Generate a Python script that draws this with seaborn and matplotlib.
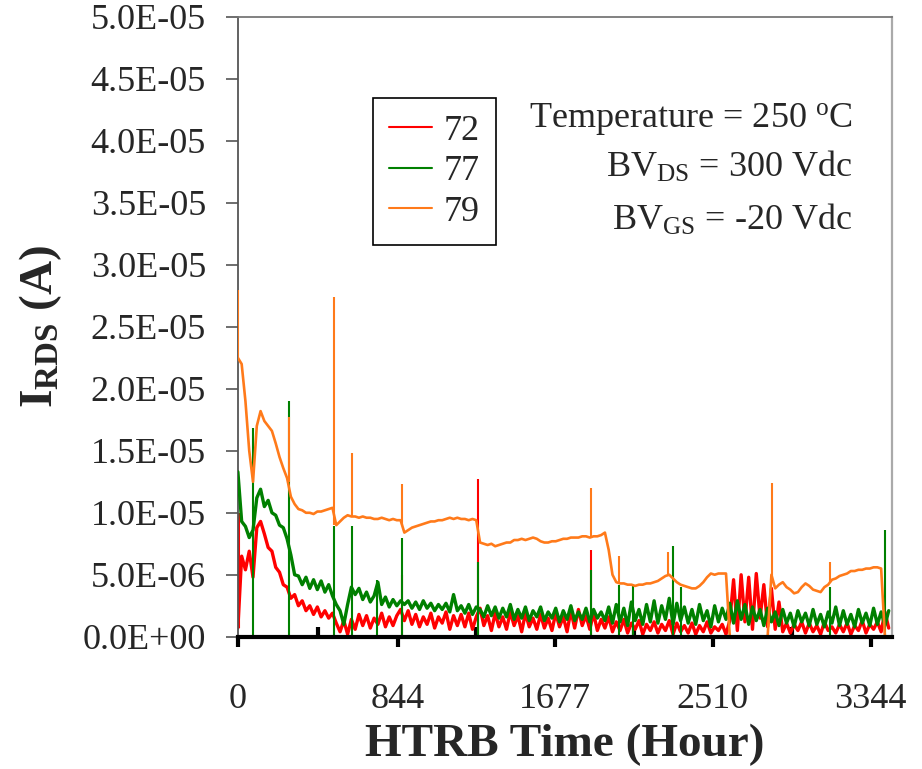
import numpy as np
import pandas as pd
import matplotlib
matplotlib.use("Agg")
import matplotlib.pyplot as plt
from matplotlib.ticker import FormatStrFormatter, FixedLocator
import seaborn as sns

# readings every 20 h, values in uA
hours = np.arange(0, 3460, 20)

irds_72 = [
    0.7, 6.5, 5.4, 6.9, 4.8, 8.8, 9.3, 8.3, 7.2, 6.9,
    5.6, 5.2, 4.2, 4.0, 3.1, 3.4, 2.5, 2.9, 2.1, 2.5,
    1.8, 2.4, 1.6, 2.1, 1.5, 1.9, 1.1, 0.4, 1.3, 0.2,
    1.4, 0.6, 1.8, 0.9, 1.7, 0.7, 1.5, 1.0, 1.9, 0.8,
    1.6, 0.9, 1.7, 2.2, 1.3, 2.1, 1.0, 1.8, 0.8, 1.6,
    1.0, 1.9, 0.7, 1.6, 1.1, 2.0, 0.6, 1.7, 0.9, 1.8,
    0.8, 1.9, 0.6, 1.6, 2.3, 0.9, 1.7, 0.5, 1.9, 0.8,
    1.6, 0.6, 2.0, 0.9, 1.7, 0.4, 1.9, 0.8, 1.5, 0.6,
    1.8, 0.7, 1.5, 0.5, 1.9, 0.8, 1.6, 0.4, 2.1, 0.7,
    2.2, 0.9, 1.7, 0.6, 1.9, 0.5, 1.4, 0.7, 1.6, 0.4,
    1.2, 0.5, 1.4, 0.3, 1.1, 0.6, 1.3, 0.2, 1.0, 0.5,
    1.2, 0.3, 1.0, 0.5, 1.3, 0.2, 1.1, 0.4, 0.9, 0.3,
    1.1, 0.2, 0.9, 0.4, 1.2, 0.3, 0.8, 0.5, 1.0, 0.2,
    1.3, 4.6, 0.5, 5.0, 1.2, 4.8, 0.6, 5.1, 1.5, 4.2,
    0.8, 3.9, 0.6, 2.8, 0.4, 1.1, 0.3, 1.0, 0.5, 1.2,
    0.3, 1.1, 0.4, 0.9, 0.2, 1.2, 0.5, 0.8, 0.3, 1.0,
    0.4, 1.1, 0.2, 0.9, 0.5, 1.3, 0.3, 1.0, 0.6, 1.2,
    0.4, 2.0, 0.7,
]

irds_77 = [
    13.3, 9.3, 8.9, 8.0, 8.6, 11.2, 11.9, 10.5, 11.0, 10.0,
    9.8, 9.0, 8.8, 7.9, 6.6, 5.0, 4.9, 4.2, 4.8, 3.9,
    4.6, 3.8, 4.5, 3.6, 4.2, 3.3, 2.6, 2.1, 1.0, 2.6,
    4.0, 3.4, 3.9, 3.0, 3.6, 2.8, 3.3, 4.4, 2.6, 3.2,
    2.4, 3.0, 2.5, 2.9, 2.6, 2.9, 2.3, 2.8, 2.2, 2.9,
    2.3, 2.7, 2.1, 2.6, 2.2, 2.7, 2.0, 3.4, 2.1, 2.5,
    1.9, 2.6, 1.8, 2.4, 2.2, 1.6, 2.5, 1.7, 2.4, 1.5,
    2.3, 1.6, 2.6, 1.4, 2.2, 1.5, 2.4, 1.3, 2.1, 1.6,
    2.4, 1.3, 2.0, 1.5, 2.3, 1.2, 2.1, 1.4, 2.5, 1.3,
    2.0, 1.4, 2.3, 1.2, 2.2, 1.5, 2.0, 1.3, 2.4, 1.1,
    2.6, 1.2, 2.3, 0.9, 2.8, 1.3, 2.2, 1.0, 2.6, 1.2,
    2.9, 1.1, 2.5, 1.4, 3.1, 1.0, 2.7, 1.3, 2.4, 1.1,
    2.2, 1.0, 2.6, 1.3, 2.1, 0.8, 2.5, 1.2, 2.3, 1.4,
    2.7, 1.1, 2.9, 1.4, 2.6, 1.0, 2.4, 1.3, 2.2, 0.9,
    2.3, 1.2, 2.0, 0.9, 2.2, 1.1, 1.9, 0.8, 2.1, 1.2,
    1.9, 0.9, 2.2, 1.0, 1.8, 0.8, 2.0, 1.1, 2.4, 0.9,
    2.1, 1.0, 1.8, 0.8, 2.2, 1.1, 1.9, 0.9, 2.3, 1.0,
    2.0, 0.9, 2.1,
]

irds_79 = [
    22.5, 22.0, 19.0, 15.0, 12.5, 17.0, 18.2, 17.4, 17.0, 16.6,
    15.6, 14.5, 13.6, 12.8, 11.3, 10.7, 10.3, 10.2, 10.0, 10.0,
    9.9, 10.1, 10.1, 10.2, 10.3, 10.4, 9.0, 9.3, 9.6, 9.8,
    9.7, 9.7, 9.6, 9.7, 9.6, 9.6, 9.5, 9.5, 9.6, 9.5,
    9.4, 9.5, 9.4, 9.4, 8.4, 8.6, 8.8, 8.9, 9.0, 9.1,
    9.2, 9.3, 9.3, 9.4, 9.4, 9.5, 9.6, 9.5, 9.6, 9.5,
    9.5, 9.4, 9.5, 9.4, 7.6, 7.5, 7.4, 7.5, 7.3, 7.4,
    7.5, 7.6, 7.6, 7.8, 7.8, 7.9, 7.8, 7.9, 8.0, 7.9,
    7.7, 7.6, 7.6, 7.7, 7.7, 7.8, 7.9, 7.9, 8.0, 8.0,
    8.0, 8.1, 8.1, 8.0, 8.1, 8.1, 8.2, 8.4, 7.0, 5.0,
    4.4, 4.3, 4.3, 4.2, 4.2, 4.1, 4.2, 4.2, 4.3, 4.3,
    4.4, 4.5, 4.7, 4.9, 5.0, 4.7, 4.4, 4.2, 4.1, 4.0,
    3.9, 3.9, 4.1, 4.4, 4.8, 5.1, 5.0, 5.1, 5.1, 5.1,
    0.0, 0.0, 0.0, 0.0, 0.0, 0.0, 0.0, 0.0, 0.0, 0.0,
    0.0, 5.0, 3.9, 4.2, 4.4, 4.0, 3.8, 3.5, 3.6, 4.0,
    4.3, 4.1, 3.8, 3.7, 3.6, 4.0, 4.2, 4.6, 4.7, 4.9,
    5.0, 5.1, 5.3, 5.3, 5.4, 5.4, 5.5, 5.5, 5.6, 5.6,
    5.5, 0.0, 0.0,
]

# single-reading spikes (hour, low, high) in uA
spike_72_t = [5, 866, 1268, 1865]
spike_72_lo = [0.7, 0.0, 0.0, 0.0]
spike_72_hi = [10.0, 5.0, 12.7, 7.0]

spike_77_t = [80, 269, 507, 602, 734, 866, 1268, 1865, 2013, 2087, 2298, 2340, 3128, 3418]
spike_77_lo = [0.0] * 14
spike_77_hi = [16.8, 19.0, 8.9, 8.9, 4.6, 8.0, 6.0, 5.4, 4.2, 4.2, 7.3, 4.0, 4.0, 8.6]

spike_79_t = [1, 269, 507, 602, 866, 1865, 2013, 2272, 2821, 3128]
spike_79_lo = [22.5, 12.5, 9.0, 9.7, 9.0, 8.0, 4.3, 5.0, 4.5, 4.4]
spike_79_hi = [28.0, 17.7, 27.4, 14.8, 12.3, 12.0, 6.5, 6.8, 12.4, 6.0]

devices = ["72", "77", "79"]
colors = {"72": "#ff0000", "77": "#008000", "79": "#ff7a1a"}
series = {"72": irds_72, "77": irds_77, "79": irds_79}
spikes = {
    "72": (spike_72_t, spike_72_lo, spike_72_hi),
    "77": (spike_77_t, spike_77_lo, spike_77_hi),
    "79": (spike_79_t, spike_79_lo, spike_79_hi),
}
widths = {"72": 2.4, "77": 2.4, "79": 1.9}

df = pd.concat([
    pd.DataFrame({"hour": hours, "irds": np.array(series[d]) * 1e-6, "device": d})
    for d in devices
])

sns.set_style("ticks")
plt.rcParams["font.family"] = ["Liberation Serif", "DejaVu Serif"]
plt.rcParams["mathtext.fontset"] = "custom"
plt.rcParams["mathtext.rm"] = "Liberation Serif"
plt.rcParams["mathtext.bf"] = "Liberation Serif:bold"
plt.rcParams["mathtext.it"] = "Liberation Serif:italic"

fig = plt.figure(figsize=(9.22, 7.69), dpi=100)
ax = fig.add_axes([0.258, 0.172, 0.710, 0.806])

for i, d in enumerate(devices):
    sub = df[df["device"] == d]
    sns.lineplot(data=sub, x="hour", y="irds", color=colors[d], linewidth=widths[d],
                 estimator=None, ax=ax, label=d, zorder=2 + i)
    t, lo, hi = spikes[d]
    ax.vlines(t, np.array(lo) * 1e-6, np.array(hi) * 1e-6, colors=colors[d],
              linewidth=1.5, zorder=2 + i)

ax.set_xlim(0, 3460)
ax.set_ylim(0, 5e-5)
ax.set_yticks(np.arange(0, 5.01e-5, 5e-6))
ax.yaxis.set_major_formatter(FormatStrFormatter("%.1E"))
ax.set_xticks([0, 844, 1677, 2510, 3344])
ax.xaxis.set_minor_locator(FixedLocator([422, 1260.5, 2093.5, 2927]))

ax.tick_params(axis="y", which="major", direction="out", length=9, width=1.2,
               color="#555555", labelsize=26, pad=14)
ax.tick_params(axis="x", which="major", direction="out", length=7, width=3,
               color="black", labelsize=26, pad=26)
ax.tick_params(axis="x", which="minor", direction="in", length=7, width=3, color="black")

ax.spines["left"].set_color("#555555")
ax.spines["left"].set_linewidth(1.3)
ax.spines["top"].set_color("#777777")
ax.spines["top"].set_linewidth(1.3)
ax.spines["right"].set_color("#aaaaaa")
ax.spines["right"].set_linewidth(1.6)
ax.spines["bottom"].set_color("black")
ax.spines["bottom"].set_linewidth(3)
ax.spines["bottom"].set_zorder(6)

ax.set_xlabel("HTRB Time (Hour)", fontsize=34, fontweight="bold")
ax.xaxis.set_label_coords(0.5, -0.14)
ax.set_ylabel(r"I$_{\mathbf{RDS}}$ (A)", fontsize=34, fontweight="bold")
ax.yaxis.set_label_coords(-0.265, 0.5)

handles, labels = ax.get_legend_handles_labels()
leg = ax.legend(handles[:3], labels[:3], loc="upper left", bbox_to_anchor=(0.206, 0.869),
                borderaxespad=0, frameon=True, fancybox=False, edgecolor="black",
                framealpha=1, fontsize=26, handlelength=1.2, handletextpad=0.3,
                labelspacing=0.2, borderpad=0.45)
leg.get_frame().set_linewidth(1.2)
for line in leg.get_lines():
    line.set_linewidth(1.5)

ax.text(0.939, 0.8226, r"Temperature = 250 $^{\mathrm{o}}$C", transform=ax.transAxes,
        ha="right", va="baseline", fontsize=26)
ax.text(0.939, 0.7419, r"BV$_{\mathrm{DS}}$ = 300 Vdc", transform=ax.transAxes,
        ha="right", va="baseline", fontsize=26)
ax.text(0.939, 0.6565, r"BV$_{\mathrm{GS}}$ = -20 Vdc", transform=ax.transAxes,
        ha="right", va="baseline", fontsize=26)

fig.savefig("out.png", dpi=100, facecolor="white")
